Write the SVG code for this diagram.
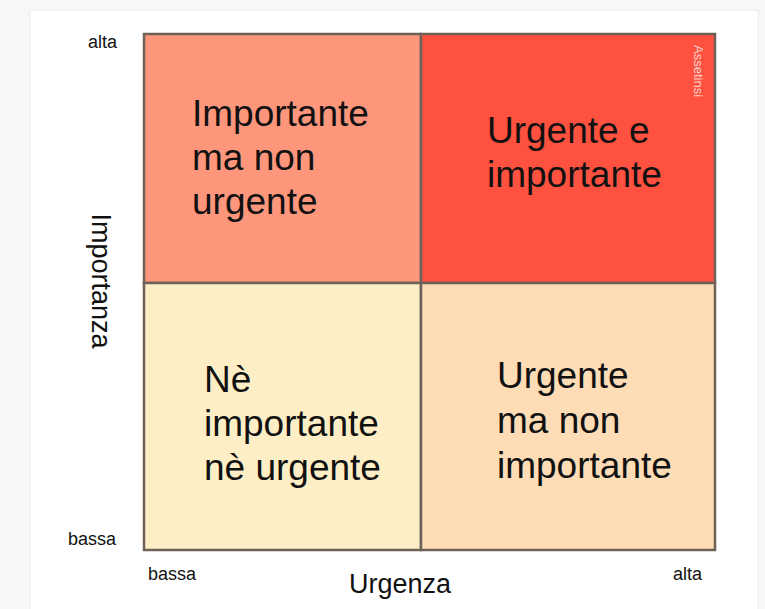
<svg xmlns="http://www.w3.org/2000/svg" width="765" height="609" viewBox="0 0 765 609">
<style>
.q{stroke:#6e6258;stroke-width:2.5}
.big{font-family:"Liberation Sans",Arial,sans-serif;font-size:37px;fill:#111}
.sm{font-family:"Liberation Sans",Arial,sans-serif;font-size:18px;fill:#111}
.ax{font-family:"Liberation Sans",Arial,sans-serif;font-size:27px;fill:#111}
</style>
<rect x="0" y="0" width="765" height="609" fill="#f7f7f7"/>
<rect x="30" y="10" width="728" height="600" fill="#ffffff" stroke="#ececec" stroke-width="1"/>
<g id="q-tl"><rect class="q" x="144" y="34" width="277" height="249" fill="#fe967c"/>
<text class="big" x="192" y="126">Importante</text><text class="big" x="192" y="170">ma non</text><text class="big" x="192" y="214">urgente</text></g>
<g id="q-tr"><rect class="q" x="421" y="34" width="294" height="249" fill="#fe5140"/>
<text class="big" x="487" y="143">Urgente e</text><text class="big" x="487" y="187">importante</text>
<text x="694" y="45" transform="rotate(90 694 45)" font-family="Liberation Sans,Arial,sans-serif" font-size="13" fill="#f8d2ca">Assetinsi</text></g>
<g id="q-bl"><rect class="q" x="144" y="283" width="277" height="267" fill="#fdeec5"/>
<text class="big" x="204" y="392">Nè</text><text class="big" x="204" y="436">importante</text><text class="big" x="204" y="480">nè urgente</text></g>
<g id="q-br"><rect class="q" x="421" y="283" width="294" height="267" fill="#fddcb6"/>
<text class="big" x="497" y="388">Urgente</text><text class="big" x="497" y="433">ma non</text><text class="big" x="497" y="478">importante</text></g>
<g id="axes">
<text class="sm" x="88" y="48">alta</text>
<text class="sm" x="68" y="545">bassa</text>
<text class="sm" x="148" y="580">bassa</text>
<text class="sm" x="673" y="580">alta</text>
<text class="ax" x="400" y="593" text-anchor="middle">Urgenza</text>
<text class="ax" x="0" y="0" text-anchor="middle" transform="translate(92 281) rotate(90)">Importanza</text>
</g>
</svg>
